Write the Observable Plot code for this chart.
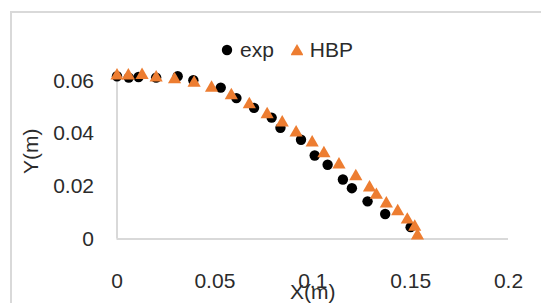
<!DOCTYPE html>
<html>
<head>
<meta charset="utf-8">
<script src="https://cdn.jsdelivr.net/npm/d3@7"></script>
<script src="https://cdn.jsdelivr.net/npm/@observablehq/plot@0.6"></script>
<style>
  html, body { margin: 0; padding: 0; background: #fff; overflow: hidden; }
  #wrap { position: relative; width: 541px; height: 303px; overflow: hidden; font-family: "Liberation Sans", Arial, sans-serif; }
  #frame { position: absolute; left: 10px; top: 11px; width: 620px; height: 400px; border: 2px solid #d9d9d9; box-sizing: border-box; }
  #chart { position: absolute; left: 0; top: 0; }
  #legend { position: absolute; top: 38px; left: 221px; font-size: 21px; color: #2b2b2b; display: flex; align-items: center; white-space: nowrap; }
  #legend svg { margin-right: 7px; }
  #legend span { margin-right: 17px; }
</style>
</head>
<body>
<div id="wrap">
  <div id="frame"></div>
  <div id="chart"></div>
  <div id="legend"></div>
</div>
<script>
// Data
const expX = [0, 0.006, 0.011, 0.020, 0.031, 0.039, 0.053, 0.061, 0.070, 0.079, 0.0835, 0.094, 0.101, 0.1076, 0.1154, 0.120, 0.128, 0.137, 0.150];
const expY = [0.0618, 0.0613, 0.0615, 0.0613, 0.0618, 0.0603, 0.0575, 0.0535, 0.0498, 0.0461, 0.0422, 0.0377, 0.0317, 0.0282, 0.0226, 0.0193, 0.0143, 0.0095, 0.0045];
const hbpX = [0, 0.0058, 0.0128, 0.020, 0.0294, 0.0394, 0.0483, 0.0584, 0.0676, 0.0767, 0.0844, 0.0915, 0.0997, 0.1057, 0.1134, 0.122, 0.129, 0.1325, 0.1376, 0.1434, 0.1483, 0.1521, 0.1535];
const hbpY = [0.062, 0.062, 0.0622, 0.0613, 0.0606, 0.0593, 0.0574, 0.0545, 0.0511, 0.0473, 0.0442, 0.0404, 0.0366, 0.0325, 0.0282, 0.0238, 0.0195, 0.0167, 0.0134, 0.0105, 0.0073, 0.0046, 0.0013];
const xTicks = [0, 0.05, 0.1, 0.15, 0.2];
const xTickLabels = ["0", "0.05", "0.1", "0.15", "0.2"];
const yTicks = [0, 0.02, 0.04, 0.06];
const yTickLabels = ["0", "0.02", "0.04", "0.06"];
const seriesNames = ["exp", "HBP"];
const seriesColors = ["#000000", "#ED7D31"];
const xTitle = "X(m)";
const yTitle = "Y(m)";

const exp = expX.map((x, i) => ({x, y: expY[i]}));
const hbp = hbpX.map((x, i) => ({x, y: hbpY[i]}));

const textColor = "#2b2b2b";
const font = "'Liberation Sans', Arial, sans-serif";

const plot = Plot.plot({
  width: 541,
  height: 303,
  marginLeft: 116.5,
  marginRight: 33,
  marginTop: 80.5,
  marginBottom: 64.5,
  style: {fontFamily: font, fontSize: "21px", color: textColor, background: "transparent", overflow: "visible"},
  x: {domain: [0, 0.2]},
  y: {domain: [0, 0.06]},
  marks: [
    Plot.ruleX([0], {stroke: "#d9d9d9", strokeWidth: 2}),
    Plot.ruleY([0], {stroke: "#d9d9d9", strokeWidth: 2}),
    Plot.axisX({ticks: xTicks, tickFormat: (d) => xTickLabels[xTicks.indexOf(d)], tickSize: 0, tickPadding: 34, label: null, fill: textColor, fontSize: 21}),
    Plot.axisY({ticks: yTicks, tickFormat: (d) => yTickLabels[yTicks.indexOf(d)], tickSize: 0, tickPadding: 23, label: null, fill: textColor, fontSize: 21}),
    Plot.dot(exp, {x: "x", y: "y", r: 5.2, fill: seriesColors[0], stroke: null, symbol: "circle"}),
    Plot.dot(hbp, {x: "x", y: "y", r: 4.9, fill: seriesColors[1], stroke: null, symbol: "triangle"}),
    Plot.text([xTitle], {frameAnchor: "bottom", text: d => d, dy: 53, lineAnchor: "middle", fill: textColor, fontSize: 21}),
    Plot.text([yTitle], {frameAnchor: "left", text: d => d, rotate: -90, dx: -86, dy: 14, lineAnchor: "middle", fill: textColor, fontSize: 21})
  ]
});
document.getElementById("chart").appendChild(plot);

// Legend
const legend = document.getElementById("legend");
const symbols = [d3.symbolCircle, d3.symbolTriangle];
const sizes = [Math.PI * 5.2 * 5.2, Math.PI * 4.9 * 4.9];
seriesNames.forEach((name, i) => {
  const svg = d3.create("svg").attr("width", 12).attr("height", 14);
  svg.append("path")
    .attr("transform", i === 1 ? "translate(6,8.5)" : "translate(6,7)")
    .attr("d", d3.symbol(symbols[i], sizes[i])())
    .attr("fill", seriesColors[i]);
  legend.appendChild(svg.node());
  const s = document.createElement("span");
  s.textContent = name;
  legend.appendChild(s);
});
</script>
</body>
</html>
